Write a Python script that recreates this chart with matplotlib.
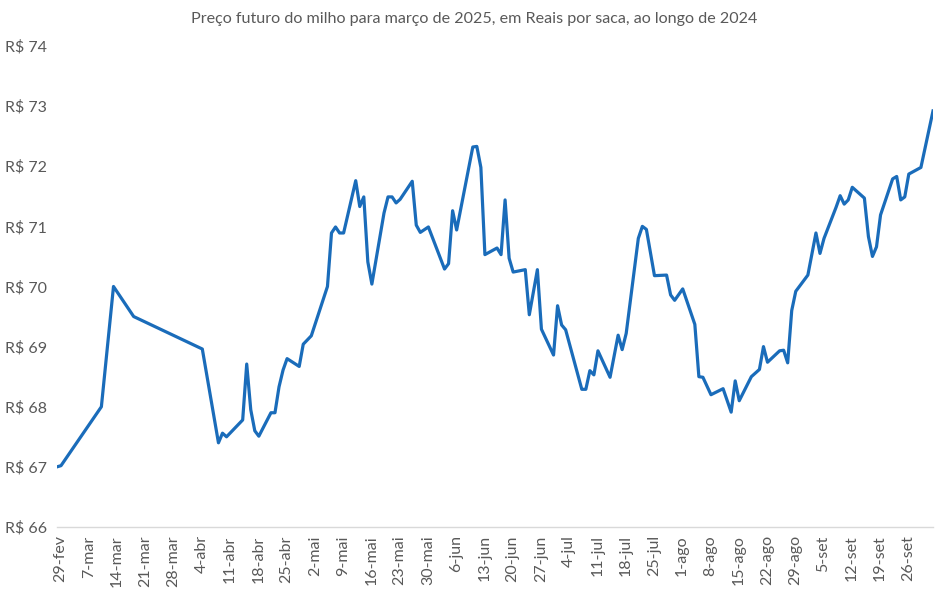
import pandas as pd
import matplotlib
matplotlib.use("Agg")
import matplotlib.pyplot as plt
import matplotlib.transforms as mtransforms

# preço futuro do milho (mar/2025), R$ por saca
datas = [
    "2024-02-29", "2024-03-01", "2024-03-11", "2024-03-14", "2024-03-19",
    "2024-04-05", "2024-04-09", "2024-04-10", "2024-04-11", "2024-04-15",
    "2024-04-16", "2024-04-17", "2024-04-18", "2024-04-19", "2024-04-22",
    "2024-04-23", "2024-04-24", "2024-04-25", "2024-04-26", "2024-04-29",
    "2024-04-30", "2024-05-02", "2024-05-06", "2024-05-07", "2024-05-08",
    "2024-05-09", "2024-05-10", "2024-05-13", "2024-05-14", "2024-05-15",
    "2024-05-16", "2024-05-17", "2024-05-20", "2024-05-21", "2024-05-22",
    "2024-05-23", "2024-05-24", "2024-05-27", "2024-05-28", "2024-05-29",
    "2024-05-31", "2024-06-04", "2024-06-05", "2024-06-06", "2024-06-07",
    "2024-06-11", "2024-06-12", "2024-06-13", "2024-06-14", "2024-06-17",
    "2024-06-18", "2024-06-19", "2024-06-20", "2024-06-21", "2024-06-24",
    "2024-06-25", "2024-06-27", "2024-06-28", "2024-07-01", "2024-07-02",
    "2024-07-03", "2024-07-04", "2024-07-08", "2024-07-09", "2024-07-10",
    "2024-07-11", "2024-07-12", "2024-07-15", "2024-07-17", "2024-07-18",
    "2024-07-19", "2024-07-22", "2024-07-23", "2024-07-24", "2024-07-26",
    "2024-07-29", "2024-07-30", "2024-07-31", "2024-08-02", "2024-08-05",
    "2024-08-06", "2024-08-07", "2024-08-09", "2024-08-12", "2024-08-14",
    "2024-08-15", "2024-08-16", "2024-08-19", "2024-08-21", "2024-08-22",
    "2024-08-23", "2024-08-26", "2024-08-27", "2024-08-28", "2024-08-29",
    "2024-08-30", "2024-09-02", "2024-09-04", "2024-09-05", "2024-09-06",
    "2024-09-09", "2024-09-10", "2024-09-11", "2024-09-12", "2024-09-13",
    "2024-09-16", "2024-09-17", "2024-09-18", "2024-09-19", "2024-09-20",
    "2024-09-23", "2024-09-24", "2024-09-25", "2024-09-26", "2024-09-27",
    "2024-09-30", "2024-10-03",
]
precos = [
    67.00, 67.02, 68.00, 70.00, 69.50,
    68.96, 67.40, 67.56, 67.50, 67.78,
    68.71, 67.95, 67.60, 67.51, 67.90,
    67.90, 68.33, 68.61, 68.80, 68.67,
    69.04, 69.18, 70.00, 70.89, 70.99,
    70.89, 70.89, 71.76, 71.33, 71.49,
    70.41, 70.04, 71.22, 71.49, 71.49,
    71.39, 71.45, 71.75, 71.02, 70.90,
    70.99, 70.29, 70.38, 71.26, 70.94,
    72.32, 72.33, 71.98, 70.53, 70.64,
    70.53, 71.44, 70.47, 70.24, 70.28,
    69.53, 70.28, 69.29, 68.86, 69.68,
    69.36, 69.28, 68.29, 68.29, 68.60,
    68.53, 68.93, 68.49, 69.19, 68.95,
    69.22, 70.80, 71.00, 70.95, 70.18,
    70.19, 69.86, 69.77, 69.96, 69.37,
    68.50, 68.49, 68.20, 68.30, 67.91,
    68.43, 68.10, 68.50, 68.62, 69.00,
    68.74, 68.93, 68.94, 68.73, 69.60,
    69.92, 70.19, 70.89, 70.55, 70.80,
    71.32, 71.51, 71.37, 71.44, 71.65,
    71.47, 70.83, 70.50, 70.66, 71.19,
    71.79, 71.83, 71.44, 71.49, 71.87,
    71.98, 72.92,
]
ticks_x = pd.date_range("2024-02-29", "2024-09-26", freq="7D")
rotulos_x = ["29-fev", "7-mar", "14-mar", "21-mar", "28-mar", "4-abr", "11-abr",
             "18-abr", "25-abr", "2-mai", "9-mai", "16-mai", "23-mai", "30-mai",
             "6-jun", "13-jun", "20-jun", "27-jun", "4-jul", "11-jul", "18-jul",
             "25-jul", "1-ago", "8-ago", "15-ago", "22-ago", "29-ago", "5-set",
             "12-set", "19-set", "26-set"]
ticks_y = list(range(66, 75))

plt.rcParams["font.family"] = ["Lato", "DejaVu Sans"]
cinza = "#595959"

fig = plt.figure(figsize=(9.48, 5.89), dpi=100)
ax = fig.add_axes([0.0601, 0.1053, 0.9241, 0.8166])

x = pd.to_datetime(datas)
ax.plot(x, precos, color="#1a6cba", lw=2.3, solid_joinstyle="round")

ax.set_xlim(pd.Timestamp("2024-02-29"), pd.Timestamp("2024-10-03"))
ax.set_ylim(66, 74)
ax.set_xticks(ticks_x)
ax.set_xticklabels(rotulos_x, rotation=90, color=cinza, fontsize=11.5)
ax.set_yticks(ticks_y)
ax.set_yticklabels([f"R$ {v}" for v in ticks_y], color=cinza, fontsize=11.5)
ax.tick_params(axis="both", length=0)
ax.tick_params(axis="x", pad=6)
ax.tick_params(axis="y", pad=7)

# rótulos do eixo x levemente à direita, como no Excel
desloc = mtransforms.ScaledTranslation(3.5 / 100, 0, fig.dpi_scale_trans)
for lbl in ax.get_xticklabels():
    lbl.set_transform(lbl.get_transform() + desloc)

for s in ["top", "right", "left"]:
    ax.spines[s].set_visible(False)
ax.spines["bottom"].set_color("#d9d9d9")
ax.spines["bottom"].set_linewidth(1)

fig.text(0.5, 0.967, "Preço futuro do milho para março de 2025, em Reais por saca, ao longo de 2024",
         ha="center", va="center", fontsize=11.6, color=cinza)

fig.savefig("out.png", dpi=100)
